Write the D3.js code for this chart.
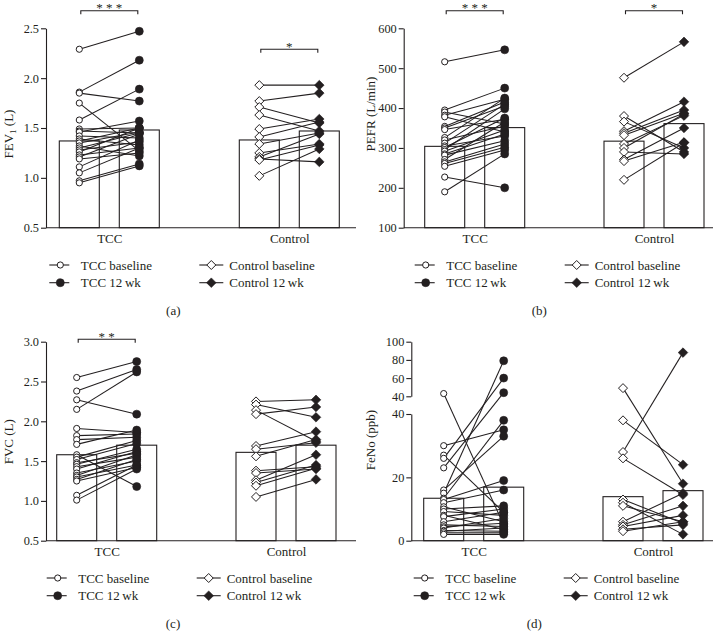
<!DOCTYPE html>
<html><head><meta charset="utf-8">
<script src="https://cdn.jsdelivr.net/npm/d3@7"></script>
<style>
body{margin:0;background:#fff}
text{font-family:"Liberation Serif","Times New Roman",serif;fill:#231f20}
</style>
</head><body>
<svg id="c" width="714" height="641"></svg>
<script>
// ---------- DATA ----------
const groups = ["TCC", "Control"];
const times = ["baseline", "12wk"];

// (a) FEV1 (L)
const fev1TccBase = [2.29, 1.86, 1.85, 1.75, 1.58, 1.49, 1.47, 1.46, 1.42, 1.39, 1.37, 1.35, 1.32, 1.30, 1.28, 1.26, 1.23, 1.21, 1.19, 1.11, 1.05, 0.97, 0.95];
const fev1TccWk12 = [2.47, 2.18, 1.77, 1.27, 1.89, 1.50, 1.45, 1.57, 1.40, 1.33, 1.50, 1.46, 1.22, 1.45, 1.36, 1.50, 1.30, 1.44, 1.25, 1.38, 1.30, 1.14, 1.12];
const fev1CtrlBase = [1.93, 1.77, 1.71, 1.63, 1.49, 1.41, 1.34, 1.25, 1.21, 1.19, 1.18, 1.02];
const fev1CtrlWk12 = [1.93, 1.85, 1.55, 1.47, 1.59, 1.56, 1.45, 1.34, 1.44, 1.16, 1.33, 1.29];
const fev1TccMeans = [1.37, 1.48];
const fev1CtrlMeans = [1.38, 1.47];
const fev1Ticks = [0.5, 1.0, 1.5, 2.0, 2.5];

// (b) PEFR (L/min)
const pefrTccBase = [516, 395, 390, 382, 378, 354, 350, 346, 326, 320, 312, 305, 301, 296, 292, 285, 282, 271, 265, 261, 254, 227, 190];
const pefrTccWk12 = [546, 450, 360, 422, 340, 415, 405, 372, 425, 355, 410, 330, 375, 398, 345, 335, 318, 365, 310, 302, 295, 200, 285];
const pefrCtrlBase = [476, 380, 366, 342, 337, 332, 310, 300, 290, 271, 267, 220];
const pefrCtrlWk12 = [566, 290, 300, 416, 395, 387, 381, 385, 285, 350, 314, 313];
const pefrTccMeans = [304, 351];
const pefrCtrlMeans = [317, 361];
const pefrTicks = [100, 200, 300, 400, 500, 600];

// (c) FVC (L)
const fvcTccBase = [2.55, 2.38, 2.27, 2.15, 1.91, 1.82, 1.77, 1.71, 1.58, 1.55, 1.52, 1.48, 1.46, 1.43, 1.40, 1.35, 1.32, 1.30, 1.27, 1.25, 1.07, 1.01];
const fvcTccWk12 = [2.75, 2.65, 2.09, 2.62, 1.86, 1.84, 1.80, 1.89, 1.18, 1.76, 1.72, 1.60, 1.65, 1.55, 1.62, 1.50, 1.58, 1.45, 1.52, 1.42, 1.45, 1.40];
const fvcCtrlBase = [2.25, 2.21, 2.14, 2.09, 1.69, 1.65, 1.56, 1.38, 1.35, 1.26, 1.23, 1.19, 1.05];
const fvcCtrlWk12 = [2.27, 2.05, 1.75, 2.18, 1.87, 1.73, 1.77, 1.43, 1.40, 1.58, 1.45, 1.41, 1.27];
const fvcTccMeans = [1.58, 1.70];
const fvcCtrlMeans = [1.61, 1.70];
const fvcTicks = [0.5, 1.0, 1.5, 2.0, 2.5, 3.0];

// (d) FeNo (ppb), broken axis
const fenoTccBase = [43, 30, 27, 26, 23, 16, 15, 13.4, 13, 12, 10.7, 10, 9.2, 8, 7.6, 6, 5, 4.4, 4, 3.2, 3, 2.5, 2];
const fenoTccWk12 = [5, 35, 9, 60, 44, 33, 79, 38, 19, 16, 6, 11, 8, 3.5, 10, 9, 4.5, 5.5, 7, 3, 4, 2.5, 2];
const fenoCtrlBase = [49, 38, 28, 26, 13, 12, 11, 6, 5, 4.5, 3.6, 3];
const fenoCtrlWk12 = [18, 24, 88, 14.5, 5.5, 2, 6, 15, 11, 8, 5, 6];
const fenoTccMeans = [13.4, 16.9];
const fenoCtrlMeans = [13.9, 15.8];
const fenoLowTicks = [0, 20, 40];
const fenoHighTicks = [40, 60, 80, 100];

const legendLabels = ["TCC baseline", "TCC 12\u2009wk", "Control baseline", "Control 12\u2009wk"];

// ---------- LAYOUT ----------
const ink = "#231f20";
const svg = d3.select("#c");

const panels = [
  { axisX: 46, yTop: 28.3, yBot: 227.7, domain: [0.5, 2.5], ticks: fev1Ticks, fmt: d3.format(".1f"),
    centers: [109.3, 289.3], xEnd: 356,
    series: [[fev1TccBase, fev1TccWk12], [fev1CtrlBase, fev1CtrlWk12]], means: [fev1TccMeans, fev1CtrlMeans],
    brackets: [{ gi: 0, v: 2.676, text: "* * *" }, { gi: 1, v: 2.29, text: "*" }],
    ylab: ["FEV", "1", " (L)"], ylabPos: [8, 134], caption: "(a)", capX: 173.3 },
  { axisX: 403.7, yTop: 28.3, yBot: 227.7, domain: [100, 600], ticks: pefrTicks, fmt: d3.format("d"),
    centers: [474.7, 654], xEnd: 713,
    series: [[pefrTccBase, pefrTccWk12], [pefrCtrlBase, pefrCtrlWk12]], means: [pefrTccMeans, pefrCtrlMeans],
    brackets: [{ gi: 0, v: 644, text: "* * *" }, { gi: 1, v: 644, text: "*" }],
    ylab: ["PEFR (L/min)"], ylabPos: [370, 114], caption: "(b)", capX: 539.3 },
  { axisX: 46, yTop: 341.7, yBot: 540.7, domain: [0.5, 3.0], ticks: fvcTicks, fmt: d3.format(".1f"),
    centers: [106.7, 286], xEnd: 356,
    series: [[fvcTccBase, fvcTccWk12], [fvcCtrlBase, fvcCtrlWk12]], means: [fvcTccMeans, fvcCtrlMeans],
    brackets: [{ gi: 0, v: 3.03, text: "* *" }],
    ylab: ["FVC (L)"], ylabPos: [8, 441.7], caption: "(c)", capX: 173 },
  { axisX: 411.3, yTop: 341.7, yBot: 540.7, broken: true,
    centers: [473.7, 653], xEnd: 713,
    series: [[fenoTccBase, fenoTccWk12], [fenoCtrlBase, fenoCtrlWk12]], means: [fenoTccMeans, fenoCtrlMeans],
    brackets: [],
    ylab: ["FeNo (ppb)"], ylabPos: [370, 440], caption: "(d)", capX: 534.3 }
];

function marker(sel, gi, filled, cx, cy) {
  if (gi === 0) {
    sel.append("circle").attr("cx", cx).attr("cy", cy).attr("r", filled ? 4 : 3.1)
      .attr("fill", filled ? ink : "#fff").attr("stroke", ink).attr("stroke-width", filled ? 0.6 : 1);
  } else {
    const h = filled ? 4.8 : 4.5;
    sel.append("path").attr("transform", `translate(${cx},${cy})`)
      .attr("d", `M0,${-h}L${h},0L0,${h}L${-h},0Z`)
      .attr("fill", filled ? ink : "#fff").attr("stroke", ink).attr("stroke-width", filled ? 0.6 : 1);
  }
}

panels.forEach(p => {
  const g = svg.append("g");
  const x = d3.scalePoint().domain(groups).range(p.centers);
  const t = d3.scalePoint().domain(times).range([-30, 30]);
  let y;
  if (p.broken) {
    const yLow = d3.scaleLinear().domain([0, 40]).range([540.7, 414]);
    const yHigh = d3.scaleLinear().domain([40, 100]).range([396.3, 341.7]);
    y = v => v > 40 ? yHigh(v) : yLow(v);
    [[yLow, fenoLowTicks], [yHigh, fenoHighTicks]].forEach(([s, tv]) => {
      g.append("g").attr("transform", `translate(${p.axisX},0)`)
        .call(d3.axisLeft(s).tickValues(tv).tickFormat(d3.format("d")).tickSize(5).tickPadding(2).tickSizeOuter(0));
    });
  } else {
    y = d3.scaleLinear().domain(p.domain).range([p.yBot, p.yTop]);
    g.append("g").attr("transform", `translate(${p.axisX},0)`)
      .call(d3.axisLeft(y).tickValues(p.ticks).tickFormat(p.fmt).tickSize(5).tickPadding(2).tickSizeOuter(0));
  }
  g.selectAll(".tick text").attr("font-size", 12.3).attr("fill", ink).style("font-family", '"Liberation Serif",serif');
  g.selectAll(".domain, .tick line").attr("stroke", ink).attr("stroke-width", 1.1);

  // x baseline + category labels
  g.append("line").attr("x1", p.axisX).attr("x2", p.xEnd).attr("y1", p.yBot).attr("y2", p.yBot)
    .attr("stroke", ink).attr("stroke-width", 1.1);
  const xa = g.append("g").attr("transform", `translate(0,${p.yBot})`)
    .call(d3.axisBottom(x).tickSize(0).tickPadding(6.3));
  xa.select(".domain").remove();
  xa.selectAll("text").attr("font-size", 13).attr("fill", ink).style("font-family", '"Liberation Serif",serif');

  // bars (means)
  const barData = [];
  groups.forEach((grp, gi) => times.forEach((tm, ti) => barData.push({ grp, tm, v: p.means[gi][ti] })));
  g.selectAll("rect.bar").data(barData).join("rect").attr("class", "bar")
    .attr("x", d => x(d.grp) + t(d.tm) - 20).attr("width", 40)
    .attr("y", d => y(d.v)).attr("height", d => p.yBot - y(d.v))
    .attr("fill", "none").attr("stroke", ink).attr("stroke-width", 1.1);

  // paired lines
  const pairs = [];
  groups.forEach((grp, gi) => {
    const [b, w] = p.series[gi];
    b.forEach((v, i) => pairs.push({ grp, gi, b: v, w: w[i] }));
  });
  g.selectAll("line.pair").data(pairs).join("line").attr("class", "pair")
    .attr("x1", d => x(d.grp) + t("baseline")).attr("y1", d => y(d.b))
    .attr("x2", d => x(d.grp) + t("12wk")).attr("y2", d => y(d.w))
    .attr("stroke", ink).attr("stroke-width", 1.05);

  // points
  const pg = g.append("g");
  pairs.forEach(d => marker(pg, d.gi, false, x(d.grp) + t("baseline"), y(d.b)));
  pairs.forEach(d => marker(pg, d.gi, true, x(d.grp) + t("12wk"), y(d.w)));

  // significance brackets
  p.brackets.forEach(b => {
    const grp = groups[b.gi];
    const x1 = x(grp) + t("baseline") + 1.5, x2 = x(grp) + t("12wk") - 1.5;
    const by = y(b.v);
    g.append("path").attr("d", `M${x1},${by + 3.5}V${by}H${x2}V${by + 3.5}`)
      .attr("fill", "none").attr("stroke", ink).attr("stroke-width", 1.1);
    g.append("text").attr("x", (x1 + x2) / 2).attr("y", by + 1.6).attr("text-anchor", "middle")
      .attr("font-size", 13).text(b.text);
  });

  // y label
  const yl = g.append("text").attr("transform", `translate(${p.ylabPos[0]},${p.ylabPos[1]}) rotate(-90)`)
    .attr("text-anchor", "middle").attr("dy", "0.35em").attr("font-size", 13);
  if (p.ylab.length === 3) {
    yl.append("tspan").text(p.ylab[0]);
    yl.append("tspan").attr("font-size", 9).attr("dy", 3).text(p.ylab[1]);
    yl.append("tspan").attr("dy", -3).text(p.ylab[2]);
  } else yl.text(p.ylab[0]);

  // legend
  const c0 = p.centers[0];
  const cols = [{ l1: -60, l2: -40, m: -49, tx: -28.5 }, { l1: 90, l2: 114, m: 102, tx: 120 }];
  const rows = [p.yBot + 37.3, p.yBot + 55];
  [0, 1].forEach(gi => [0, 1].forEach(ti => {
    const col = cols[gi], ry = rows[ti];
    g.append("line").attr("x1", c0 + col.l1).attr("x2", c0 + col.l2).attr("y1", ry).attr("y2", ry)
      .attr("stroke", ink).attr("stroke-width", 1.1);
    marker(g, gi, ti === 1, c0 + col.m, ry);
    g.append("text").attr("x", c0 + col.tx).attr("y", ry).attr("dy", "0.35em").attr("font-size", 13)
      .text(legendLabels[gi * 2 + ti]);
  }));

  // caption
  g.append("text").attr("x", p.capX).attr("y", p.yBot + 82.3).attr("dy", "0.35em")
    .attr("text-anchor", "middle").attr("font-size", 13).text(p.caption);
});
</script>
</body></html>
